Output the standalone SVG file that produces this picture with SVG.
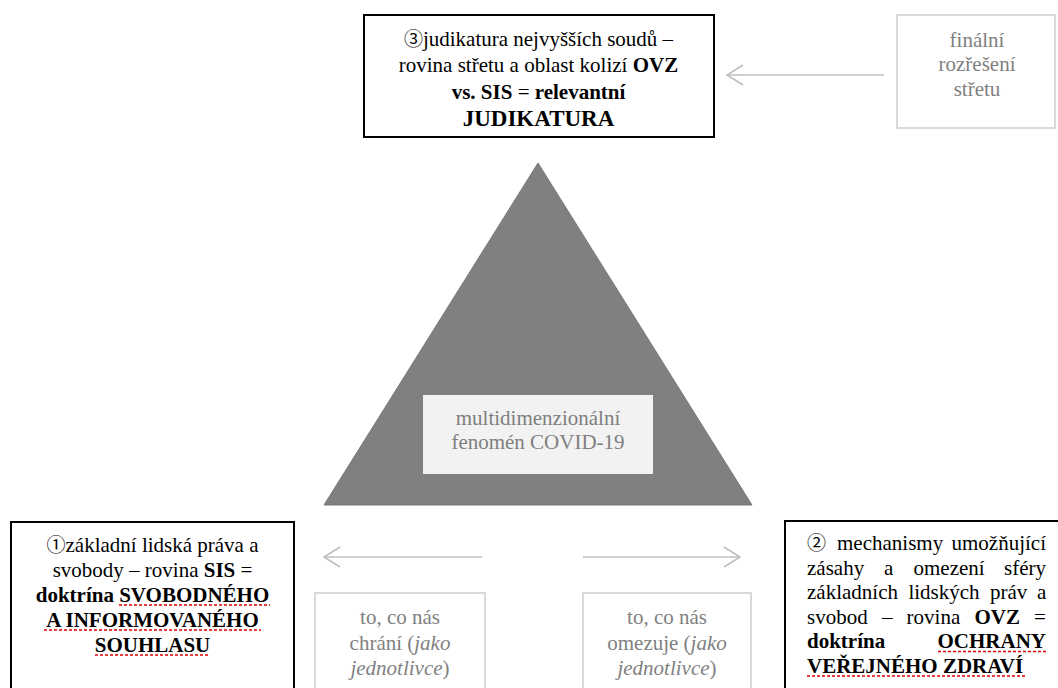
<svg xmlns="http://www.w3.org/2000/svg" width="1058" height="688" viewBox="0 0 1058 688">
<style>
  .t{font-family:"Liberation Serif","Times New Roman",serif;font-size:21px;fill:#000}
  .g{fill:#7f7f7f}
  .b{font-weight:bold}
  .i{font-style:italic}
  .big{font-size:23px}
  .c{font-family:"Noto Sans CJK JP","DejaVu Sans",sans-serif;font-size:19px}
  .box{fill:#fff;stroke:#000;stroke-width:2}
  .lbox{fill:#fff;stroke:#d9d9d9;stroke-width:2}
  .arr{fill:none;stroke:#bfbfbf;stroke-width:1.6}
  .ul{stroke:#e00000;stroke-width:1.6;stroke-dasharray:3 2}
</style>
<defs>
  <marker id="chev" markerUnits="userSpaceOnUse" markerWidth="24" markerHeight="24" viewBox="-18 -12 24 24" refX="0" refY="0" orient="auto">
    <path d="M-16,-10 L0,0 L-16,10" fill="none" stroke="#bfbfbf" stroke-width="1.6"/>
  </marker>
</defs>
<rect width="1058" height="688" fill="#fff"/>

<g id="triangle">
  <polygon points="538,163 324,505 752,505" fill="#808080" stroke="#777" stroke-width="1"/>
</g>

<g id="covid">
  <rect x="423" y="395" width="230" height="79" fill="#f2f2f2"/>
  <text class="t g" text-anchor="middle"><tspan x="538" y="425">multidimenzionální</tspan><tspan x="538" y="449">fenomén COVID-19</tspan></text>
</g>

<g id="judikatura">
  <rect class="box" x="364" y="15" width="350" height="122"/>
  <text class="t" text-anchor="middle" x="538.5" y="45.5"><tspan class="c">③</tspan>judikatura nejvyšších soudů –</text>
  <text class="t" text-anchor="middle" x="538.5" y="72">rovina střetu a oblast kolizí <tspan class="b">OVZ</tspan></text>
  <text class="t" text-anchor="middle" x="538.5" y="98.5"><tspan class="b">vs. SIS</tspan> = <tspan class="b">relevantní</tspan></text>
  <text class="t b big" text-anchor="middle" x="538.5" y="125.5">JUDIKATURA</text>
</g>

<g id="finalni">
  <rect class="lbox" x="897" y="15" width="158" height="113"/>
  <text class="t g" text-anchor="middle"><tspan x="977" y="46.5">finální</tspan><tspan x="977" y="71">rozřešení</tspan><tspan x="977" y="95.5">střetu</tspan></text>
</g>

<g id="sis">
  <rect class="box" x="11" y="522" width="283" height="180"/>
  <text class="t" text-anchor="middle" x="152.5" y="552"><tspan class="c">①</tspan>základní lidská práva a</text>
  <text class="t" text-anchor="middle" x="152.5" y="577">svobody – rovina <tspan class="b">SIS</tspan> =</text>
  <text class="t b" text-anchor="middle" x="152.5" y="602">doktrína SVOBODNÉHO</text>
  <text class="t b" text-anchor="middle" x="152.5" y="627">A INFORMOVANÉHO</text>
  <text class="t b" text-anchor="middle" x="152.5" y="652">SOUHLASU</text>
  <line class="ul" x1="119" y1="605" x2="270" y2="605"/>
  <line class="ul" x1="44" y1="630" x2="261" y2="630"/>
  <line class="ul" x1="95" y1="655" x2="210" y2="655"/>
</g>

<g id="ovz">
  <rect class="box" x="785" y="521" width="280" height="180"/>
  <text class="t" y="550"><tspan class="c" x="807">②</tspan><tspan x="837">mechanismy</tspan><tspan x="951.5">umožňující</tspan></text>
  <text class="t" y="574.5"><tspan x="807">zásahy</tspan><tspan x="884">a</tspan><tspan x="913.5">omezení</tspan><tspan x="1004">sféry</tspan></text>
  <text class="t" y="599"><tspan x="807">základních</tspan><tspan x="908.4">lidských</tspan><tspan x="990">práv</tspan><tspan x="1037">a</tspan></text>
  <text class="t" y="623.5"><tspan x="807">svobod</tspan><tspan x="881.9">–</tspan><tspan x="906.6">rovina</tspan><tspan class="b" x="974.5">OVZ</tspan><tspan x="1034">=</tspan></text>
  <text class="t b" y="648"><tspan x="807">doktrína</tspan><tspan x="937.5">OCHRANY</tspan></text>
  <text class="t b" x="807" y="672.5">VEŘEJNÉHO ZDRAVÍ</text>
  <line class="ul" x1="938" y1="651.5" x2="1046" y2="651.5"/>
  <line class="ul" x1="807" y1="676" x2="1026" y2="676"/>
</g>

<g id="chrani">
  <rect class="lbox" x="315" y="593" width="170" height="110"/>
  <text class="t g" text-anchor="middle" x="400" y="624">to, co nás</text>
  <text class="t g" text-anchor="middle" x="400" y="650">chrání (<tspan class="i">jako</tspan></text>
  <text class="t g" text-anchor="middle" x="400" y="675"><tspan class="i">jednotlivce</tspan>)</text>
</g>

<g id="omezuje">
  <rect class="lbox" x="583" y="593" width="168" height="110"/>
  <text class="t g" text-anchor="middle" x="667" y="624">to, co nás</text>
  <text class="t g" text-anchor="middle" x="667" y="650">omezuje (<tspan class="i">jako</tspan></text>
  <text class="t g" text-anchor="middle" x="667" y="675"><tspan class="i">jednotlivce</tspan>)</text>
</g>

<g id="connectors">
  <line class="arr" x1="884" y1="75" x2="727" y2="75" marker-end="url(#chev)"/>
  <line class="arr" x1="482" y1="557" x2="324" y2="557" marker-end="url(#chev)"/>
  <line class="arr" x1="583" y1="557" x2="740" y2="557" marker-end="url(#chev)"/>
</g>
</svg>
